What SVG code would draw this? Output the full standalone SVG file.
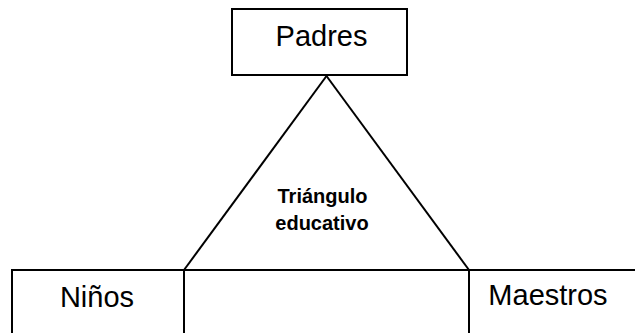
<svg xmlns="http://www.w3.org/2000/svg" width="635" height="333" viewBox="0 0 635 333">
<style>
.box{fill:#fff;stroke:#000;stroke-width:2}
.lbl{font-family:"Liberation Sans",Arial,sans-serif;font-size:29px;fill:#000;text-anchor:middle}
.tri{font-family:"Liberation Sans",Arial,sans-serif;font-size:20px;font-weight:bold;fill:#000;text-anchor:middle}
.edge{stroke:#000;stroke-width:2;fill:none}
</style>
<rect width="635" height="333" fill="#fff"/>
<g id="padres">
<rect class="box" x="232" y="9" width="175" height="66"/>
<text class="lbl" x="321.5" y="46">Padres</text>
</g>
<g id="ninos">
<rect class="box" x="12" y="270" width="172" height="90"/>
<text class="lbl" x="97" y="307">Niños</text>
</g>
<g id="centro">
<rect class="box" x="184" y="270" width="285" height="90"/>
</g>
<g id="maestros">
<rect class="box" x="469" y="270" width="180" height="90"/>
<text class="lbl" x="548" y="305">Maestros</text>
</g>
<g id="connectors">
<line class="edge" x1="326.5" y1="76" x2="184" y2="270"/>
<line class="edge" x1="326.5" y1="76" x2="469" y2="270"/>
</g>
<g id="triangulo">
<text class="tri" x="322.5" y="203">Triángulo</text>
<text class="tri" x="322" y="230">educativo</text>
</g>
</svg>
